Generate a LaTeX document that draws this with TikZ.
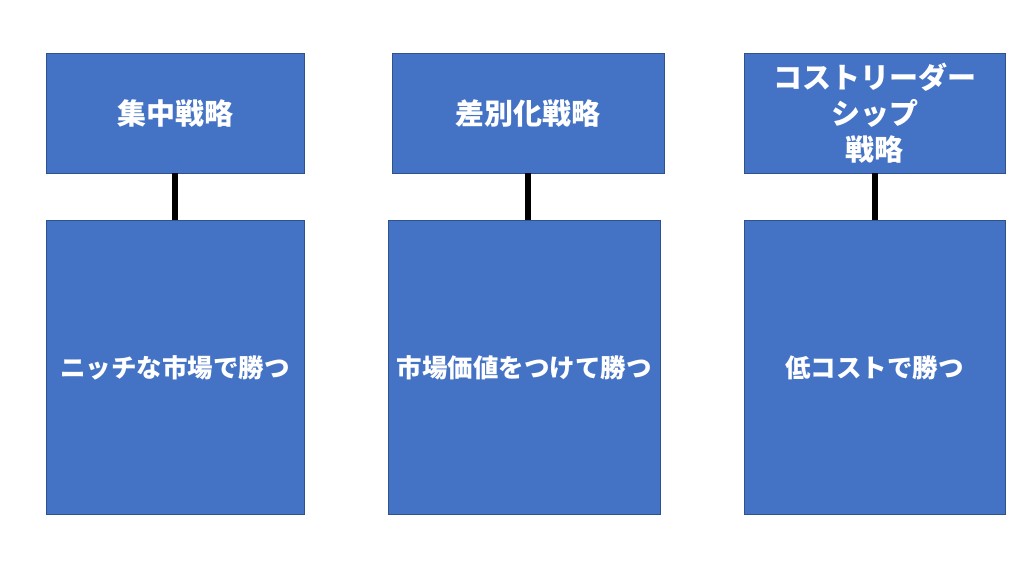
\documentclass[tikz,border=0pt]{standalone}
\usepackage{fontspec}
\setmainfont{Noto Sans CJK JP}
\usepackage{tikz}
\usetikzlibrary{positioning}
\definecolor{boxblue}{HTML}{4472C4}
\definecolor{boxedge}{HTML}{2F528F}
\tikzstyle{top} = [rectangle, minimum height=120pt, inner sep=0pt, text centered, fill=boxblue, draw=boxedge, line width=0.8pt, text=white, font=\fontsize{29}{36}\selectfont\bfseries]
\tikzstyle{bot} = [rectangle, minimum height=294pt, inner sep=0pt, text centered, fill=boxblue, draw=boxedge, line width=0.8pt, text=white, font=\fontsize{25.5}{30}\selectfont\bfseries]
\tikzstyle{link} = [line width=6pt, black]

\begin{document}
\begin{tikzpicture}[align=center, x=1pt, y=-1pt]
        \useasboundingbox (0,0) rectangle (1024,576);
        \node (focus) [top, minimum width=258pt] at (175,113) {集中戦略};
        \node (diff) [top, minimum width=272pt] at (528,113) {差別化戦略};
        \node (cost) [top, minimum width=261pt] at (874.5,113) {コストリーダー\\シップ\\戦略};
        \node (focusb) [bot, minimum width=258pt, below=47pt of focus] {ニッチな市場で勝つ};
        \node (diffb) [bot, minimum width=272pt, below=47pt of diff, xshift=-4pt] {市場価値をつけて勝つ};
        \node (costb) [bot, minimum width=261pt, below=47pt of cost] {低コストで勝つ};
        \draw [link] (focus.south) -- (focus.south |- focusb.north);
        \draw [link] (diff.south) -- (diff.south |- diffb.north);
        \draw [link] (cost.south) -- (cost.south |- costb.north);
    \end{tikzpicture}
\end{document}
